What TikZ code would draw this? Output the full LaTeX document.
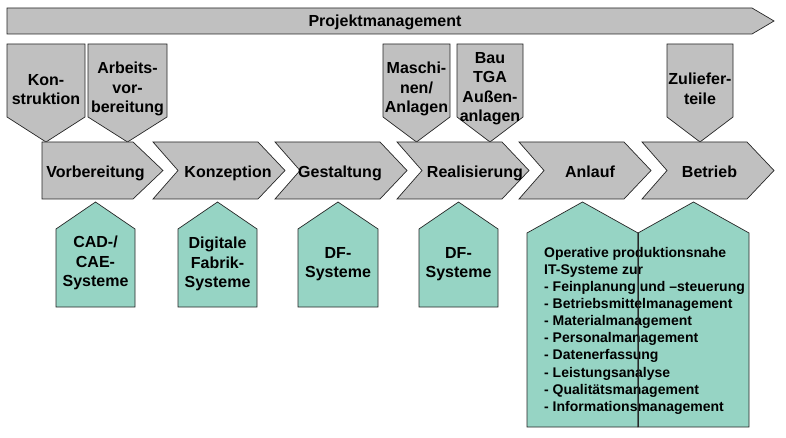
\documentclass[tikz,border=0pt]{standalone}
\usepackage{fontspec}
\setmainfont{Liberation Sans}
\definecolor{shapegray}{HTML}{C0C0C0}
\definecolor{shapegreen}{HTML}{96D4C4}
\definecolor{edgecol}{HTML}{262626}
\begin{document}
\begin{tikzpicture}[x=1pt,y=-1pt,
  grayshape/.style={fill=shapegray,draw=edgecol,line width=0.7pt,line join=miter},
  greenshape/.style={fill=shapegreen,draw=edgecol,line width=0.7pt,line join=miter},
  lbl/.style={font=\bfseries\fontsize{16}{19.5}\selectfont,align=center,inner sep=0pt},
  listtext/.style={font=\bfseries\fontsize{14}{17.1}\selectfont,align=left,inner sep=0pt,anchor=north west}]
\useasboundingbox (0,0) rectangle (786,438);

% top bar
\draw[grayshape] (7,8) -- (752,8) -- (774,21) -- (752,34) -- (7,34) -- cycle;
\node[lbl,anchor=base] (pm) at (385,26.8) {Projektmanagement};

% downward pentagons (inputs)
\newcommand\downpent[2]{%
  \draw[grayshape] (#1,44) -- (#2,44) -- (#2,117) -- ({(#1+#2)/2},142) -- (#1,117) -- cycle;}
\downpent{7}{85}
\downpent{88}{167}
\downpent{383}{450}
\downpent{457}{523}
\downpent{667}{733}
\node[lbl,anchor=north] (kon) at (46,74) {Kon-\\struktion};
\node[lbl,anchor=north] (av) at (127.5,62) {Arbeits-\\vor-\\bereitung};
\node[lbl,anchor=north] (ma) at (416.5,62) {Maschi-\\nen/\\Anlagen};
\node[lbl,anchor=north] (bau) at (490,52) {Bau\\TGA\\Außen-\\anlagen};
\node[lbl,anchor=north] (zu) at (700,73) {Zuliefer-\\teile};

% chevrons (phases)
\draw[grayshape] (42,142) -- (133,142) -- (163,170.5) -- (133,199) -- (42,199) -- cycle;
\newcommand\chev[1]{%
  \draw[grayshape] (#1,142) -- ({#1+105},142) -- ({#1+132},170.5) -- ({#1+105},199) -- (#1,199) -- ({#1+25},170.5) -- cycle;}
\chev{153}
\chev{275}
\chev{397}
\chev{519}
\chev{642}
\node[lbl,anchor=base] (p1) at (95.5,177.5) {Vorbereitung};
\node[lbl,anchor=base] (p2) at (228,177.5) {Konzeption};
\node[lbl,anchor=base] (p3) at (340,177.5) {Gestaltung};
\node[lbl,anchor=base] (p4) at (475,177.5) {Realisierung};
\node[lbl,anchor=base] (p5) at (590,177.5) {Anlauf};
\node[lbl,anchor=base] (p6) at (709.5,177.5) {Betrieb};

% upward pentagons (IT systems)
\newcommand\uppent[3]{%
  \draw[greenshape] (#1,427) -- (#1,#3) -- ({(#1+#2)/2},202) -- (#2,#3) -- (#2,427) -- cycle;}
\newcommand\uppentsmall[2]{%
  \draw[greenshape] (#1,307) -- (#1,229) -- ({(#1+#2)/2},202) -- (#2,229) -- (#2,307) -- cycle;}
\uppentsmall{56}{135}
\uppentsmall{178}{257}
\uppentsmall{298}{378}
\uppentsmall{419}{498}
\uppent{527}{638}{233}
\uppent{638}{749}{233}
\node[lbl,anchor=north] (cad) at (95.5,236) {CAD-/\\CAE-\\Systeme};
\node[lbl,anchor=north] (dig) at (217.5,237) {Digitale\\Fabrik-\\Systeme};
\node[lbl,anchor=north] (df1) at (338,247) {DF-\\Systeme};
\node[lbl,anchor=north] (df2) at (458.5,247) {DF-\\Systeme};
\node[listtext] (ops) at (544,247) {Operative produktionsnahe\\IT-Systeme zur\\- Feinplanung und –steuerung\\- Betriebsmittelmanagement\\- Materialmanagement\\- Personalmanagement\\- Datenerfassung\\- Leistungsanalyse\\- Qualitätsmanagement\\- Informationsmanagement};
\draw[edgecol,line width=0.7pt] (638,233) -- (638,427);
\end{tikzpicture}
\end{document}
